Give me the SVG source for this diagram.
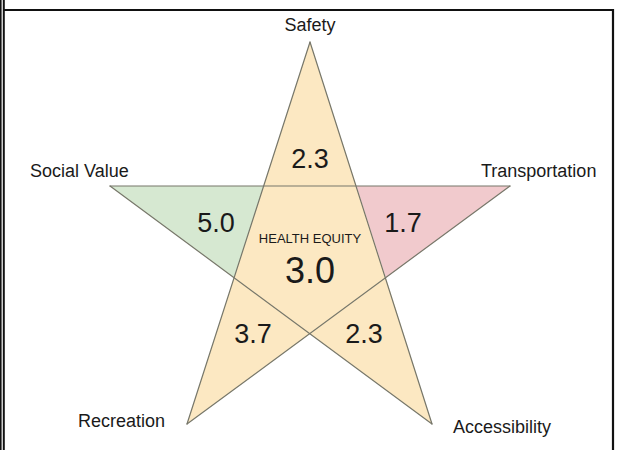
<svg xmlns="http://www.w3.org/2000/svg" width="619" height="450" viewBox="0 0 619 450">
<style>
.lbl{font-family:"Liberation Sans",Arial,sans-serif;font-size:18px;fill:#1a1a1a;}
.num{font-family:"Liberation Sans",Arial,sans-serif;font-size:27px;fill:#1a1a1a;text-anchor:middle;}
.beige{fill:#fce8c2;}
.green{fill:#d6e8d1;}
.pink{fill:#f1cacd;}
.edge{stroke:#77776a;stroke-width:1.2;fill:none;stroke-linecap:round;}
.frame{stroke:#111;fill:none;}
</style>
<rect width="619" height="450" fill="#ffffff"/>
<g id="frame">
<line class="frame" x1="0.8" y1="0" x2="0.8" y2="450" stroke-width="1.6"/>
<line class="frame" x1="3.8" y1="0" x2="3.8" y2="450" stroke-width="2"/>
<polyline class="frame" points="3.8,10 613,10 613,450" stroke-width="2.2"/>
</g>
<g id="center">
<polygon class="beige" points="263.6,186 356.4,186 385.9,277.7 310,333.8 234.1,277.7"/>
<text class="num" x="310" y="242.5" style="font-size:13px">HEALTH EQUITY</text>
<text class="num" x="310" y="283" style="font-size:36px">3.0</text>
</g>
<g id="safety">
<polygon class="beige" points="310,42 263.6,186 356.4,186"/>
<text class="num" x="310" y="167.5">2.3</text>
<text class="lbl" x="310" y="31" text-anchor="middle">Safety</text>
</g>
<g id="social-value">
<polygon class="green" points="110,186 263.6,186 234.1,277.7"/>
<text class="num" x="216" y="232">5.0</text>
<text class="lbl" x="30" y="177">Social Value</text>
</g>
<g id="transportation">
<polygon class="pink" points="510,186 356.4,186 385.9,277.7"/>
<text class="num" x="403" y="231.5">1.7</text>
<text class="lbl" x="481" y="177">Transportation</text>
</g>
<g id="recreation">
<polygon class="beige" points="187,424 234.1,277.7 310,333.8"/>
<text class="num" x="253" y="343">3.7</text>
<text class="lbl" x="78" y="427">Recreation</text>
</g>
<g id="accessibility">
<polygon class="beige" points="432,424 385.9,277.7 310,333.8"/>
<text class="num" x="364" y="343">2.3</text>
<text class="lbl" x="453" y="433">Accessibility</text>
</g>
<g id="connectors">
<line class="edge" x1="310" y1="42" x2="187" y2="424"/>
<line class="edge" x1="310" y1="42" x2="432" y2="424"/>
<line class="edge" x1="110" y1="186" x2="510" y2="186"/>
<line class="edge" x1="110" y1="186" x2="432" y2="424"/>
<line class="edge" x1="510" y1="186" x2="187" y2="424"/>
</g>
</svg>
